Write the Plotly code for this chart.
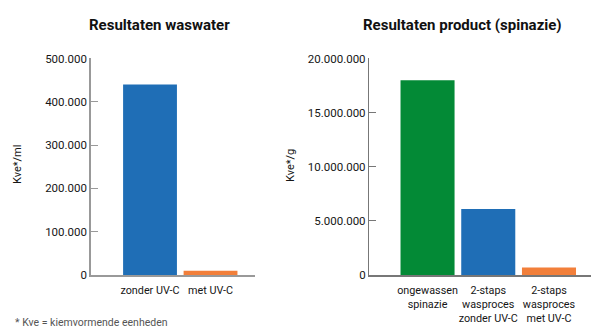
import plotly.graph_objects as go

# Washing water results (colony forming units per ml)
water_labels = ["zonder UV-C", "met UV-C"]
water_values = [440000, 10000]
water_colors = ["#1f6eb6", "#f27f3a"]
water_ticks = [0, 100000, 200000, 300000, 400000, 500000]
water_ticktext = ["0", "100.000", "200.000", "300.000", "400.000", "500.000"]

# Spinach product results (colony forming units per g)
product_labels = ["ongewassen<br>spinazie", "2-staps<br>wasproces<br>zonder UV-C", "2-staps<br>wasproces<br>met UV-C"]
product_values = [18000000, 6100000, 700000]
product_colors = ["#038a36", "#1f6eb6", "#f27f3a"]
product_ticks = [0, 5000000, 10000000, 15000000, 20000000]
product_ticktext = ["0", "5.000.000", "10.000.000", "15.000.000", "20.000.000"]

FONT = "Roboto, Arial, sans-serif"
TXT = "#161616"

fig = go.Figure()
fig.add_trace(go.Bar(x=water_labels, y=water_values, marker=dict(color=water_colors, line=dict(width=0)),
                     xaxis="x", yaxis="y", showlegend=False))
fig.add_trace(go.Bar(x=product_labels, y=product_values, marker=dict(color=product_colors, line=dict(width=0)),
                     xaxis="x2", yaxis="y2", showlegend=False))

ydom = [0.1791, 0.8254]
tickfont = dict(family=FONT, size=11.5, color=TXT)
catfont = dict(family=FONT, size=10.8, color=TXT)

fig.update_layout(
    width=600, height=335,
    margin=dict(l=0, r=0, t=0, b=0),
    paper_bgcolor="white", plot_bgcolor="white",
    bargap=0.11,
    font=dict(family=FONT, color=TXT),
    xaxis=dict(domain=[0.1517, 0.425], range=[-0.975, 1.735], type="category",
               showline=True, linecolor="#999999", linewidth=2, showgrid=False,
               ticks="", tickfont=catfont, tickangle=0, automargin=False, ticklabelstandoff=4,
               anchor="y", fixedrange=True),
    yaxis=dict(domain=ydom, range=[0, 500000], tickvals=water_ticks, ticktext=water_ticktext,
               showline=True, linecolor="#999999", linewidth=1.5, showgrid=False, zeroline=False,
               ticks="inside", ticklen=7, tickcolor="#999999", tickwidth=1, automargin=False,
               tickfont=tickfont, anchor="x", fixedrange=True),
    xaxis2=dict(domain=[0.615, 0.9845], range=[-0.964, 2.687], type="category",
                showline=True, linecolor="#777777", linewidth=1.5, showgrid=False,
                ticks="", tickfont=catfont, tickangle=0, automargin=False, ticklabelstandoff=4,
                anchor="y2", fixedrange=True),
    yaxis2=dict(domain=ydom, range=[0, 20000000], tickvals=product_ticks, ticktext=product_ticktext,
                showline=True, linecolor="#777777", linewidth=1.2, showgrid=False, zeroline=False,
                ticks="inside", ticklen=7, tickcolor="#777777", tickwidth=1, automargin=False,
                tickfont=tickfont, anchor="x2", fixedrange=True),
)

annotations = [
    dict(text="<b>Resultaten waswater</b>", x=159 / 600, y=1 - 25 / 335, xref="paper", yref="paper",
         xanchor="center", yanchor="middle", showarrow=False, font=dict(family=FONT, size=15, color="#111111")),
    dict(text="<b>Resultaten product (spinazie)</b>", x=462 / 600, y=1 - 25 / 335, xref="paper", yref="paper",
         xanchor="center", yanchor="middle", showarrow=False, font=dict(family=FONT, size=15, color="#111111")),
    dict(text="Kve*/ml", x=17 / 600, y=1 - 165 / 335, xref="paper", yref="paper", textangle=-90,
         xanchor="center", yanchor="middle", showarrow=False, font=dict(family=FONT, size=11, color=TXT)),
    dict(text="Kve*/g", x=290 / 600, y=1 - 166 / 335, xref="paper", yref="paper", textangle=-90,
         xanchor="center", yanchor="middle", showarrow=False, font=dict(family=FONT, size=11, color=TXT)),
    dict(text="* Kve = kiemvormende eenheden", x=13 / 600, y=1 - 322 / 335, xref="paper", yref="paper",
         xanchor="left", yanchor="middle", showarrow=False, font=dict(family=FONT, size=10.5, color="#555555")),
]
fig.update_layout(annotations=annotations)

fig.write_html("out.html", config=dict(displayModeBar=False))
